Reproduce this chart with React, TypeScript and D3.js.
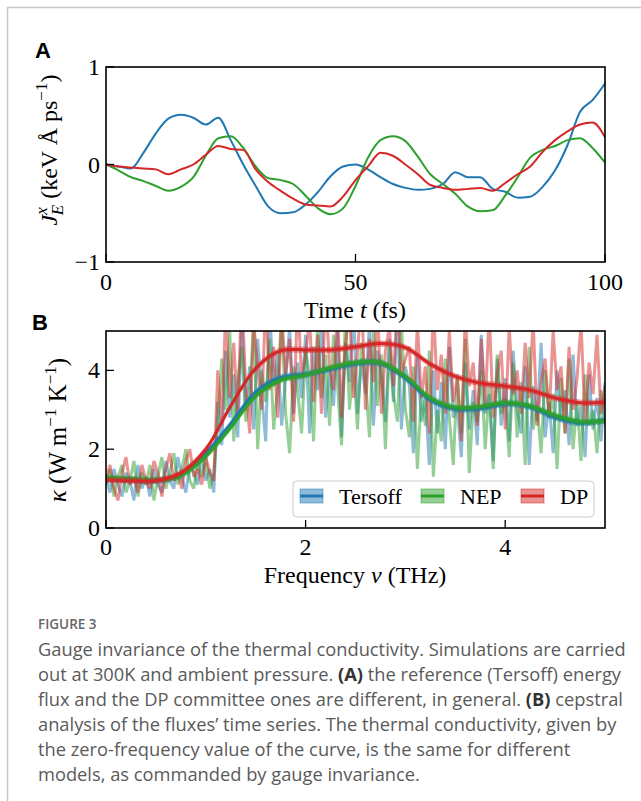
import * as d3 from "d3";

// ---- panel A: energy flux time series ----
const timeFs = [0, 2.5, 5, 7.5, 10, 12.5, 15, 17.5, 20, 22.5, 25, 27.5, 30, 32.5, 35, 37.5, 40, 42.5, 45, 47.5, 50,
  52.5, 55, 57.5, 60, 62.5, 65, 67.5, 70, 72.5, 75, 77.5, 80, 82.5, 85, 87.5, 90, 92.5, 95, 97.5, 100];

const fluxTersoff = [0.0, -0.02, -0.04, 0.12, 0.32, 0.47, 0.51, 0.48, 0.41, 0.48, 0.25, 0.0, -0.22, -0.43, -0.5, -0.49,
  -0.41, -0.28, -0.12, -0.02, 0.0, -0.05, -0.13, -0.2, -0.24, -0.26, -0.25, -0.2, -0.08, -0.13, -0.13, -0.25, -0.28,
  -0.34, -0.33, -0.23, -0.06, 0.2, 0.54, 0.66, 0.83];
const fluxNEP = [0.0, -0.06, -0.13, -0.17, -0.22, -0.27, -0.23, -0.13, 0.09, 0.27, 0.29, 0.17, -0.02, -0.14, -0.16,
  -0.2, -0.32, -0.45, -0.51, -0.45, -0.22, 0.07, 0.25, 0.29, 0.24, 0.08, -0.1, -0.2, -0.3, -0.43, -0.48, -0.47, -0.32,
  -0.13, 0.07, 0.15, 0.19, 0.25, 0.27, 0.17, 0.02];
const fluxDP = [0.0, -0.02, -0.03, -0.04, -0.05, -0.1, -0.05, 0.0, 0.1, 0.19, 0.16, 0.15, -0.05, -0.18, -0.27, -0.35,
  -0.41, -0.42, -0.43, -0.33, -0.16, -0.02, 0.12, 0.09, 0.0, -0.1, -0.21, -0.24, -0.26, -0.25, -0.24, -0.27, -0.19,
  -0.1, -0.02, 0.13, 0.25, 0.34, 0.41, 0.43, 0.28];

const timeTicks = [0, 50, 100];
const fluxTicks = [-1, 0, 1];

// ---- panel B: periodogram (noisy) and filtered spectrum (smooth) ----
const freqStep = 0.04; // THz between periodogram samples
const periodTersoff = [
  1.3, 0.9, 1.5, 1.1, 0.8, 1.4, 1.2, 0.7, 1.6, 1.0, 1.3, 0.8, 1.5, 1.1, 0.9, 1.7, 1.2, 1.0, 1.8, 1.3, 0.9, 1.6, 1.4, 1.1, 1.9, 1.2, 1.5, 0.9,
  3.2, 2.1, 4.5, 2.8, 3.9, 2.3, 5.2, 3.0, 4.1, 2.5, 4.8, 3.4, 2.2, 5.5, 3.6, 4.4, 2.6, 3.8, 5.1, 2.9, 4.2, 3.3, 4.9,
  2.4, 4.6, 3.5, 5.3, 2.8, 4.0, 3.1, 5.0, 2.3, 4.7, 3.7, 5.6, 2.9, 4.3, 3.4, 5.2, 2.6, 4.5, 3.9, 2.7, 4.8, 3.2, 5.4, 2.5, 4.1,
  3.6, 1.9, 4.4, 2.7, 3.3, 1.6, 4.0, 2.4, 3.7, 2.0, 4.6, 2.8, 3.1, 1.8, 4.2, 2.5, 3.5, 2.1, 4.9, 2.9, 3.4, 1.7, 4.3, 2.6, 3.8,
  2.2, 4.5, 3.0, 2.4, 4.1, 1.6, 3.6, 2.7, 4.7, 2.3, 3.2, 1.9, 4.0, 2.8, 3.5, 2.1, 4.4, 2.6, 3.1, 1.8, 3.9, 2.5, 3.3, 2.2, 3.7];
const periodNEP = [
  1.1, 1.5, 0.8, 1.3, 1.6, 0.9, 1.2, 1.7, 0.8, 1.4, 1.1, 1.6, 0.7, 1.3, 1.8, 1.0, 1.4, 1.9, 1.1, 1.5, 2.0, 1.2, 1.0, 1.7, 1.3, 1.8, 1.0, 1.4,
  2.6, 4.3, 3.0, 5.0, 2.2, 3.7, 4.6, 2.7, 3.4, 5.3, 2.0, 4.0, 3.2, 4.8, 2.5, 3.6, 5.4, 2.9, 1.9, 4.1, 3.5, 2.4, 4.5,
  3.9, 2.2, 5.1, 3.3, 4.4, 2.6, 4.9, 3.6, 2.1, 5.5, 3.0, 4.2, 2.5, 4.7, 3.8, 2.3, 5.0, 3.1, 4.4, 2.0, 4.6, 3.4, 2.7, 5.2, 3.0,
  2.3, 4.1, 1.5, 3.4, 2.6, 4.5, 1.3, 3.0, 2.2, 4.3, 2.8, 1.6, 3.9, 2.4, 4.8, 1.4, 3.2, 2.7, 4.0, 2.0, 3.6, 1.5, 4.4, 2.9, 3.3,
  1.8, 4.2, 2.3, 3.7, 1.6, 4.6, 2.5, 3.1, 1.9, 4.0, 2.8, 3.4, 1.5, 3.8, 2.4, 4.3, 2.0, 3.2, 1.7, 3.9, 2.6, 3.0, 1.9, 3.5, 2.8];
const periodDP = [
  1.2, 1.6, 1.0, 0.7, 1.4, 1.8, 1.1, 1.3, 0.9, 1.6, 1.2, 1.0, 1.7, 1.4, 0.8, 1.5, 1.9, 1.2, 1.4, 1.0, 1.7, 2.0, 1.3, 1.5, 1.1, 1.8, 1.4, 1.2,
  4.0, 2.6, 5.6, 3.3, 4.7, 2.9, 6.0, 3.6, 2.4, 5.2, 4.1, 3.0, 5.8, 3.5, 4.6, 2.8, 5.4, 3.9, 4.8, 2.7, 5.9, 3.8, 4.4,
  5.3, 3.2, 4.9, 2.9, 6.0, 4.1, 3.5, 5.6, 2.8, 4.7, 5.5, 3.3, 4.4, 6.0, 3.0, 4.8, 3.7, 5.7, 2.9, 4.5, 5.1, 3.6, 6.0, 3.9, 4.3,
  4.6, 2.7, 5.2, 3.3, 4.1, 2.4, 5.6, 3.5, 4.4, 2.9, 5.0, 3.2, 3.8, 2.2, 5.4, 3.6, 4.2, 2.6, 4.8, 3.1, 5.5, 2.8, 3.9, 4.5, 2.5,
  5.1, 3.4, 4.0, 2.9, 4.7, 3.3, 5.3, 2.6, 3.7, 4.3, 2.8, 5.0, 3.5, 4.1, 2.4, 4.6, 3.0, 3.8, 5.2, 2.7, 4.2, 3.4, 4.9, 2.9, 3.6];

const smoothFreq = [0, 0.25, 0.5, 0.75, 1.0, 1.25, 1.5, 1.75, 2.0, 2.25, 2.5, 2.75, 3.0, 3.25, 3.5, 3.75, 4.0, 4.25, 4.5, 4.75, 5.0];
const kappaTersoff = [1.25, 1.22, 1.2, 1.35, 1.9, 2.65, 3.45, 3.82, 3.9, 4.03, 4.17, 4.18, 3.8, 3.25, 3.02, 3.03, 3.15, 3.07, 2.8, 2.66, 2.74];
const kappaNEP = [1.28, 1.24, 1.22, 1.33, 1.82, 2.55, 3.35, 3.75, 3.88, 4.07, 4.2, 4.2, 3.85, 3.3, 3.06, 3.08, 3.18, 3.1, 2.86, 2.7, 2.72];
const kappaDP = [1.22, 1.2, 1.2, 1.4, 2.0, 3.1, 4.05, 4.5, 4.52, 4.52, 4.6, 4.68, 4.58, 4.16, 3.85, 3.68, 3.6, 3.5, 3.3, 3.18, 3.19];
const kappaBand = 0.08;

const freqTicks = [0, 2, 4];
const kappaTicks = [0, 2, 4];

const models = ["Tersoff", "NEP", "DP"];
const colors = ["#1f77b4", "#2ca02c", "#d62728"];

const captionTitle = "FIGURE 3";
const captionLines: { t: string; b?: boolean }[][] = [
  [{ t: "Gauge invariance of the thermal conductivity. Simulations are carried" }],
  [{ t: "out at 300K and ambient pressure. " }, { t: "(A)", b: true }, { t: " the reference (Tersoff) energy" }],
  [{ t: "flux and the DP committee ones are different, in general. " }, { t: "(B)", b: true }, { t: " cepstral" }],
  [{ t: "analysis of the fluxes\u2019 time series. The thermal conductivity, given by" }],
  [{ t: "the zero-frequency value of the curve, is the same for different" }],
  [{ t: "models, as commanded by gauge invariance." }],
];

const serif = "'Liberation Serif', 'Times New Roman', serif";
const sans = "'Open Sans', 'Noto Sans', sans-serif";

export default function App() {
  const xA = d3.scaleLinear().domain([0, 100]).range([106, 605]);
  const yA = d3.scaleLinear().domain([-1, 1]).range([262, 67]);
  const xB = d3.scaleLinear().domain([0, 5]).range([106, 605]);
  const yB = d3.scaleLinear().domain([0, 5]).range([528, 331]);

  const fluxLine = d3.line<number>().x((_, i) => xA(timeFs[i])).y((d) => yA(d)).curve(d3.curveMonotoneX);
  const noisyLine = d3.line<number>().x((_, i) => xB(i * freqStep)).y((d) => yB(d));
  const smoothLine = d3.line<number>().x((_, i) => xB(smoothFreq[i])).y((d) => yB(d)).curve(d3.curveCatmullRom);
  const smoothBand = d3
    .area<number>()
    .x((_, i) => xB(smoothFreq[i]))
    .y0((d) => yB(d - kappaBand))
    .y1((d) => yB(d + kappaBand))
    .curve(d3.curveCatmullRom);

  const fluxes = [fluxTersoff, fluxNEP, fluxDP];
  const periods = [periodTersoff, periodNEP, periodDP];
  const kappas = [kappaTersoff, kappaNEP, kappaDP];

  const tick = 8;
  const legendX = [300, 421, 521];

  return (
    <svg width={641} height={801} style={{ position: "absolute", left: 0, top: 0, background: "#fff" }}>
      <rect x={7.5} y={7.5} width={700} height={900} fill="none" stroke="#c8c8c8" strokeWidth={1.5} />
      <defs>
        <clipPath id="clipA">
          <rect x={106} y={67} width={499} height={195} />
        </clipPath>
        <clipPath id="clipB">
          <rect x={106} y={331} width={499} height={197} />
        </clipPath>
      </defs>

      {/* panel A */}
      <text x={35} y={58} fontFamily="'Liberation Sans', Arial, sans-serif" fontWeight="bold" fontSize={22}>A</text>
      <g clipPath="url(#clipA)">
        {fluxes.map((f, k) => (
          <path key={k} d={fluxLine(f) ?? ""} fill="none" stroke={colors[k]} strokeWidth={2} />
        ))}
      </g>
      <rect x={106} y={67} width={499} height={195} fill="none" stroke="#000" strokeWidth={1.6} />
      <g fontFamily={serif} fontSize={24}>
        {timeTicks.map((t) => (
          <g key={t}>
            <line x1={xA(t)} x2={xA(t)} y1={262} y2={262 - tick} stroke="#000" strokeWidth={1.3} />
            <text x={xA(t)} y={290} textAnchor="middle">{t}</text>
          </g>
        ))}
        {fluxTicks.map((v) => (
          <g key={v}>
            <line x1={106} x2={106 + tick} y1={yA(v)} y2={yA(v)} stroke="#000" strokeWidth={1.3} />
            <text x={100} y={yA(v) + 8} textAnchor="end">{v < 0 ? "\u2212" + Math.abs(v) : v}</text>
          </g>
        ))}
        <text x={355} y={318} textAnchor="middle">
          Time <tspan fontStyle="italic">t</tspan> (fs)
        </text>
        <text transform="translate(57,150) rotate(-90)" textAnchor="middle" fontSize={24}>
          <tspan fontStyle="italic">J</tspan>
          <tspan fontStyle="italic" fontSize={17} dy={-10}>x</tspan>
          <tspan fontStyle="italic" fontSize={17} dx={-8} dy={16}>E</tspan>
          <tspan dy={-6}> (keV Å ps</tspan>
          <tspan fontSize={17} dy={-10}>{"\u22121"}</tspan>
          <tspan dy={10}>)</tspan>
        </text>
      </g>

      {/* panel B */}
      <text x={32} y={330} fontFamily="'Liberation Sans', Arial, sans-serif" fontWeight="bold" fontSize={22}>B</text>
      <g clipPath="url(#clipB)">
        {periods.map((p, k) => (
          <path key={k} d={noisyLine(p) ?? ""} fill="none" stroke={colors[k]} strokeWidth={3}
            strokeOpacity={0.5} strokeLinejoin="miter" strokeMiterlimit={2} />
        ))}
        {kappas.map((c, k) => (
          <g key={k}>
            <path d={smoothBand(c) ?? ""} fill={colors[k]} fillOpacity={0.45} />
            <path d={smoothLine(c) ?? ""} fill="none" stroke={colors[k]} strokeWidth={3} />
          </g>
        ))}
      </g>
      <rect x={106} y={331} width={499} height={197} fill="none" stroke="#000" strokeWidth={1.6} />
      <g fontFamily={serif} fontSize={24}>
        {freqTicks.map((t) => (
          <g key={t}>
            <line x1={xB(t)} x2={xB(t)} y1={528} y2={528 - tick} stroke="#000" strokeWidth={1.3} />
            <text x={xB(t)} y={555} textAnchor="middle">{t}</text>
          </g>
        ))}
        {kappaTicks.map((v) => (
          <g key={v}>
            <line x1={106} x2={106 + tick} y1={yB(v)} y2={yB(v)} stroke="#000" strokeWidth={1.3} />
            <text x={100} y={yB(v) + 8} textAnchor="end">{v}</text>
          </g>
        ))}
        <text x={355} y={583} textAnchor="middle">
          Frequency <tspan fontStyle="italic">ν</tspan> (THz)
        </text>
        <text transform="translate(66,430) rotate(-90)" textAnchor="middle" fontSize={25}>
          <tspan fontStyle="italic">κ</tspan>
          <tspan> (W m</tspan>
          <tspan fontSize={17} dy={-10}>{"\u22121"}</tspan>
          <tspan dy={10}> K</tspan>
          <tspan fontSize={17} dy={-10}>{"\u22121"}</tspan>
          <tspan dy={10}>)</tspan>
        </text>
      </g>

      {/* legend */}
      <rect x={293} y={481} width={301} height={36} rx={4} fill="#fff" fillOpacity={0.85} stroke="#cccccc" />
      {models.map((m, k) => (
        <g key={m}>
          <rect x={legendX[k]} y={489} width={23} height={14} fill={colors[k]} fillOpacity={0.5} stroke={colors[k]} strokeOpacity={0.5} />
          <line x1={legendX[k]} x2={legendX[k] + 23} y1={496} y2={496} stroke={colors[k]} strokeWidth={3} />
          <text x={legendX[k] + 39} y={504} fontFamily={serif} fontSize={22}>{m}</text>
        </g>
      ))}

      {/* caption */}
      <text x={38} y={629} fontFamily={sans} fontSize={13.5} fill="#666" fontWeight={600}>
        {captionTitle}
      </text>
      {captionLines.map((line, i) => (
        <text key={i} x={38} y={656 + i * 25} fontFamily={sans} fontSize={18.3} fill="#5a5a5a">
          {line.map((s, j) => (
            <tspan key={j} fontWeight={s.b ? 700 : 400} fill={s.b ? "#333" : "#5a5a5a"}>{s.t}</tspan>
          ))}
        </text>
      ))}
    </svg>
  );
}
